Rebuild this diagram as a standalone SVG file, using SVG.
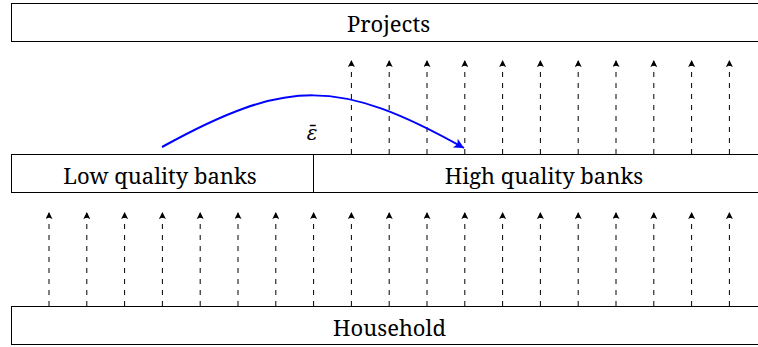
<svg xmlns="http://www.w3.org/2000/svg" width="758" height="347" viewBox="0 0 758 347">
<defs>
<marker id="ah" viewBox="0 0 10 10" refX="10" refY="5" markerWidth="8" markerHeight="7" markerUnits="userSpaceOnUse" orient="auto">
<path d="M0,0 L10,5 L0,10 L2,5 Z" fill="#000"/>
</marker>
<marker id="bh" viewBox="0 0 10 10" refX="10" refY="5" markerWidth="14" markerHeight="10" markerUnits="userSpaceOnUse" orient="auto">
<path d="M0,0 L10,5 L0,10 L2.5,5 Z" fill="#0000ff"/>
</marker>
</defs>
<style>
.box{fill:#fff;stroke:#000;stroke-width:1}
.flow{stroke:#000;stroke-width:1;stroke-dasharray:5 6;fill:none;marker-end:url(#ah)}
.bend{stroke:#0000ff;stroke-width:2;fill:none;marker-end:url(#bh)}
</style>
<g id="projects">
<rect class="box" x="11.5" y="3.5" width="758" height="38"/>
<text font-family="Noto Serif, Liberation Serif, serif" font-size="22" text-anchor="middle" x="388.5" y="31.5">Projects</text>
</g>
<g id="low-quality-banks">
<rect class="box" x="11.5" y="154.5" width="302" height="38"/>
<text font-family="Noto Serif, Liberation Serif, serif" font-size="22" text-anchor="middle" x="160" y="184">Low quality banks</text>
</g>
<g id="high-quality-banks">
<rect class="box" x="313.5" y="154.5" width="456" height="38"/>
<text font-family="Noto Serif, Liberation Serif, serif" font-size="22" text-anchor="middle" x="544" y="184">High quality banks</text>
</g>
<g id="household">
<rect class="box" x="11.5" y="306.5" width="758" height="38"/>
<text font-family="Noto Serif, Liberation Serif, serif" font-size="22" text-anchor="middle" x="389.5" y="336">Household</text>
</g>
<g id="connectors">
<path class="flow" d="M49,306V212"/>
<path class="flow" d="M86.8,306V212"/>
<path class="flow" d="M124.6,306V212"/>
<path class="flow" d="M162.4,306V212"/>
<path class="flow" d="M200.2,306V212"/>
<path class="flow" d="M238,306V212"/>
<path class="flow" d="M275.8,306V212"/>
<path class="flow" d="M313.6,306V212"/>
<path class="flow" d="M351.4,306V212"/>
<path class="flow" d="M389.2,306V212"/>
<path class="flow" d="M427,306V212"/>
<path class="flow" d="M464.8,306V212"/>
<path class="flow" d="M502.6,306V212"/>
<path class="flow" d="M540.4,306V212"/>
<path class="flow" d="M578.2,306V212"/>
<path class="flow" d="M616,306V212"/>
<path class="flow" d="M653.8,306V212"/>
<path class="flow" d="M691.6,306V212"/>
<path class="flow" d="M729.4,306V212"/>
<path class="flow" d="M351.4,154V60"/>
<path class="flow" d="M389.2,154V60"/>
<path class="flow" d="M427,154V60"/>
<path class="flow" d="M464.8,154V60"/>
<path class="flow" d="M502.6,154V60"/>
<path class="flow" d="M540.4,154V60"/>
<path class="flow" d="M578.2,154V60"/>
<path class="flow" d="M616,154V60"/>
<path class="flow" d="M653.8,154V60"/>
<path class="flow" d="M691.6,154V60"/>
<path class="flow" d="M729.4,154V60"/>
<path class="bend" d="M162,147 C287,78 339,78 464,148"/>
</g>
<g id="epsilon-label">
<text font-family="DejaVu Serif" font-size="20" font-style="italic" x="312" y="140" text-anchor="middle">ε̄</text>
</g>
</svg>
